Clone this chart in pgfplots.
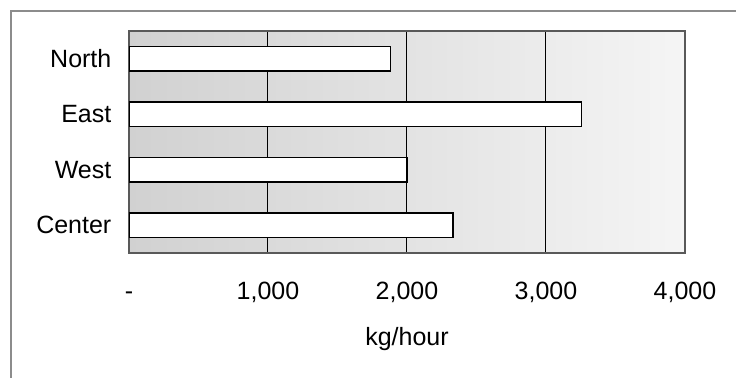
\documentclass[border=0pt]{standalone}
\usepackage{pgfplots}
\pgfplotsset{compat=1.18}
\usepackage{fontspec}
\setmainfont{Liberation Sans}
\begin{document}
\begin{tikzpicture}
\useasboundingbox (0,0) rectangle (368pt,189pt);
\draw[black!45, line width=0.6pt] (5.5pt,0) -- (5.5pt,183.5pt) -- (368pt,183.5pt);
\begin{axis}[
  at={(64.5pt,62.5pt)}, anchor=south west,
  scale only axis, width=278pt, height=111pt,
  xmin=0, xmax=4000, ymin=-0.5, ymax=3.5,
  xtick={0,1000,2000,3000,4000},
  xticklabels={-,{1,000},{2,000},{3,000},{4,000}},
  ytick={0,1,2,3},
  yticklabels={Center,West,East,North},
  major tick length=0pt,
  font=\fontsize{12.5}{15}\selectfont,
  xticklabel style={anchor=base, yshift=-23.5pt},
  yticklabel style={xshift=-5.3pt},
  xlabel={kg/hour},
  xlabel style={at={(axis description cs:0.5,0)}, anchor=base, yshift=-46.5pt},
  xmajorgrids, grid style={black, line width=0.5pt},
  axis line style={black!65, line width=0.6pt},
  axis background/.style={left color=black!18, right color=black!4},
  xbar, bar width=0.44, bar shift=0pt,
]
\addplot[fill=white, draw=black, line width=0.8pt] coordinates {
  (1880,3) (3255,2) (2000,1) (2330,0)
};
\end{axis}
\end{tikzpicture}
\end{document}
